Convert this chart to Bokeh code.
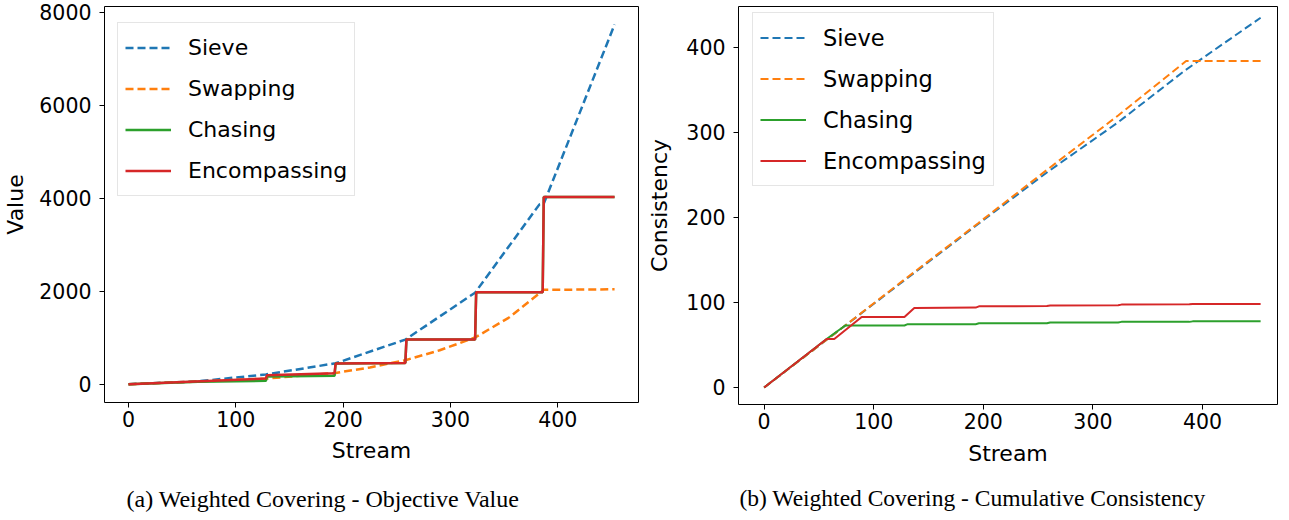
from bokeh.plotting import figure
from bokeh.layouts import row
from bokeh.models import Range1d, FixedTicker, Legend, LegendItem
from bokeh.embed import file_html
from bokeh.resources import INLINE

# ---------------- data: (a) Objective Value ----------------
obj_sieve_x = [0, 65, 128, 193, 258, 323, 383, 387, 453]
obj_sieve_y = [0, 62, 210, 450, 960, 1970, 3870, 3885, 7740]

obj_swap_x = [0, 65, 128, 193, 225, 258, 290, 323, 355, 387, 453]
obj_swap_y = [0, 58, 120, 243, 360, 516, 730, 1004, 1440, 2030, 2043]

obj_chase_x = [0, 65, 128, 129, 192, 193, 258, 259, 323, 324, 386, 387, 453]
obj_chase_y = [0, 55, 72, 165, 180, 445, 455, 961, 961, 1978, 1978, 4028, 4028]

obj_enc_x = [0, 128, 129, 192, 193, 258, 259, 323, 324, 386, 387, 453]
obj_enc_y = [0, 122, 194, 237, 445, 458, 961, 961, 1978, 1978, 4028, 4028]

# ---------------- data: (b) Cumulative Consistency ----------------
con_sieve_x = [0, 65, 130, 195, 258, 323, 384, 453]
con_sieve_y = [0, 64, 128, 192, 253, 312, 373, 435]

con_swap_x = [0, 65, 130, 195, 258, 323, 385, 453]
con_swap_y = [0, 64, 129, 193, 256, 320, 384, 384]

con_chase_x = [0, 57, 74, 128, 131, 193, 196, 258, 261, 323, 326, 388, 391, 453]
con_chase_y = [0, 57, 73, 73, 74.5, 74.5, 75.5, 75.5, 76.5, 76.5, 77.2, 77.2, 77.8, 77.8]

con_enc_x = [0, 57, 64, 89, 128, 137, 193, 196, 258, 261, 323, 326, 388, 391, 453]
con_enc_y = [0, 57, 57, 83, 83, 93.5, 94, 95.5, 95.8, 96.5, 96.8, 97.5, 97.8, 98.3, 98.3]

x_ticks = [0, 100, 200, 300, 400]
obj_ticks = [0, 2000, 4000, 6000, 8000]
con_ticks = [0, 100, 200, 300, 400]

names = ["Sieve", "Swapping", "Chasing", "Encompassing"]
colors = ["#1f77b4", "#ff7f0e", "#2ca02c", "#d62728"]
dashes = ["8 4", "8 4", "solid", "solid"]

FONT = "DejaVu Sans"


def make(title, xr, yr, fw, fh, bl, br, bt, yticks, ylabel, series, lw,
         ylab_standoff, xlab_standoff, title_offset, title_standoff,
         legend_xy, legend_font, title_font):
    p = figure(frame_width=fw, frame_height=fh, x_range=Range1d(*xr),
               y_range=Range1d(*yr), output_backend="svg",
               toolbar_location=None, title=title, title_location="below",
               min_border_left=bl, min_border_right=br, min_border_top=bt,
               min_border_bottom=5)
    p.background_fill_color = "white"
    p.border_fill_color = "white"
    p.outline_line_color = "black"
    p.outline_line_width = 1
    p.grid.visible = False

    items = []
    for (xs, ys), name, c, d in zip(series, names, colors, dashes):
        r = p.line(xs, ys, line_color=c, line_width=lw, line_dash=d)
        items.append(LegendItem(label=name, renderers=[r]))

    leg = Legend(items=items, location=legend_xy)
    leg.label_text_font = FONT
    leg.label_text_font_size = legend_font
    leg.label_text_color = "black"
    leg.glyph_width = 46
    leg.glyph_height = 35
    leg.label_height = 35
    leg.label_standoff = 17
    leg.spacing = 6
    leg.padding = 7
    leg.margin = 0
    leg.border_line_color = "#cccccc"
    leg.border_line_width = 1
    leg.background_fill_alpha = 0.8
    p.add_layout(leg)

    p.xaxis.ticker = FixedTicker(ticks=x_ticks)
    p.yaxis.ticker = FixedTicker(ticks=yticks)
    for ax in (p.xaxis[0], p.yaxis[0]):
        ax.axis_line_color = None
        ax.major_tick_line_color = "black"
        ax.major_tick_out = 5
        ax.major_tick_in = 0
        ax.minor_tick_line_color = None
        ax.major_label_text_font = FONT
        ax.major_label_text_font_size = "20.5px"
        ax.major_label_text_color = "black"
        ax.axis_label_text_font = FONT
        ax.axis_label_text_font_size = "22px"
        ax.axis_label_text_font_style = "normal"
        ax.axis_label_text_color = "black"
    p.xaxis.axis_label = "Stream"
    p.xaxis.major_label_standoff = 3
    p.xaxis.axis_label_standoff = xlab_standoff
    p.yaxis.axis_label = ylabel
    p.yaxis.major_label_standoff = 8
    p.yaxis.axis_label_standoff = ylab_standoff

    p.title.text_font = "Liberation Serif"
    p.title.text_font_size = title_font
    p.title.text_font_style = "normal"
    p.title.text_color = "black"
    p.title.align = "left"
    p.title.offset = title_offset
    p.title.standoff = title_standoff
    return p


p1 = make("(a) Weighted Covering - Objective Value",
          (-22.4, 475.3), (-394, 8129), 534, 396, 99, 6, 6, obj_ticks, "Value",
          [(obj_sieve_x, obj_sieve_y), (obj_swap_x, obj_swap_y),
           (obj_chase_x, obj_chase_y), (obj_enc_x, obj_enc_y)],
          2.5, 8, 8, 22, 36, (13, 206), "22px", "24px")

p2 = make("(b) Weighted Covering - Cumulative Consistency",
          (-23.4, 468.4), (-20, 448.2), 539, 398, 93, 2, 0, con_ticks,
          "Consistency",
          [(con_sieve_x, con_sieve_y), (con_swap_x, con_swap_y),
           (con_chase_x, con_chase_y), (con_enc_x, con_enc_y)],
          2.0, 11, 9, 1, 29, (14, 218), "22.5px", "23.5px")

layout = row(p1, p2)
open("out.html", "w").write(file_html(layout, INLINE))
